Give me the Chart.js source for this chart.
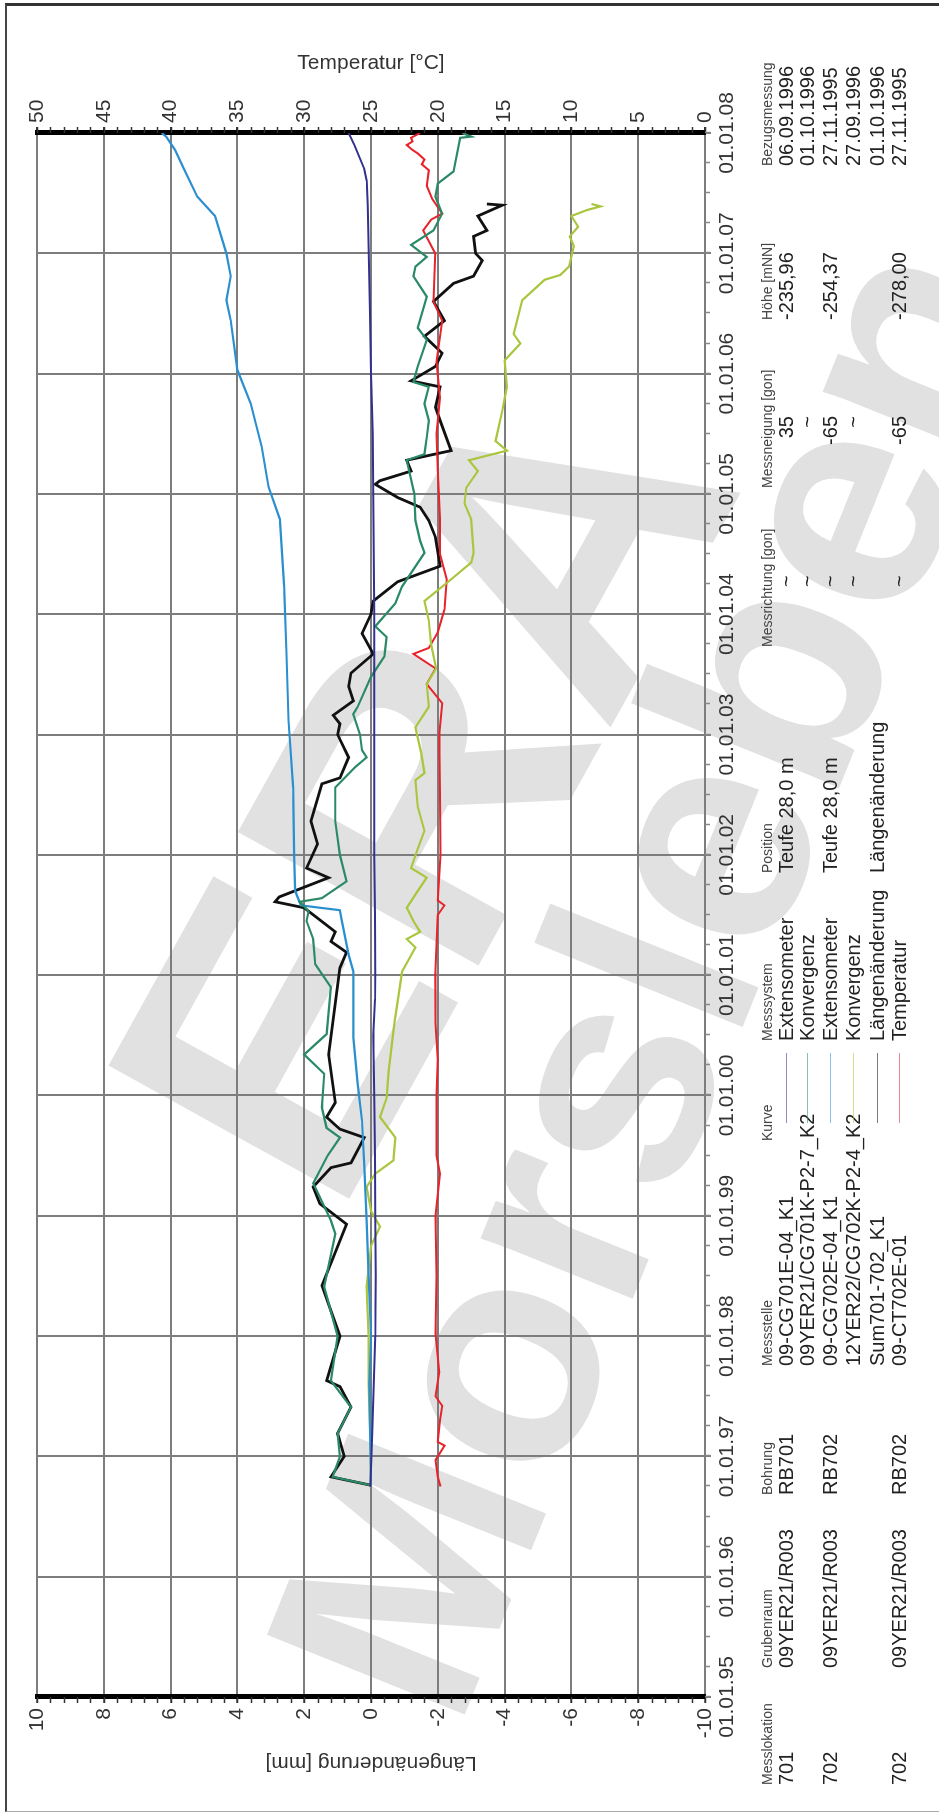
<!DOCTYPE html>
<html>
<head>
<meta charset="utf-8">
<script src="https://cdn.jsdelivr.net/npm/chart.js@4"></script>
<style>
  html, body { margin: 0; padding: 0; background: #fff; }
  body { width: 939px; height: 1813px; overflow: hidden; position: relative; }
  .wm { position: absolute; font-family: 'Liberation Sans', Arial, sans-serif; font-weight: bold;
        color: #e1e1e1; white-space: nowrap; transform-origin: 50% 50%; line-height: 1; z-index: 0; }
  #rahmen { position: absolute; left: 5px; top: 3px; width: 940px; height: 1805px;
            border-left: 2px solid #444; border-top: 3px solid #333; border-bottom: 1px solid #aaa; z-index: 2; }
  #frame { position: absolute; left: 0; top: 0; width: 1813px; height: 939px; transform-origin: 0 0;
           transform: translate(0px, 1813px) rotate(-90deg); z-index: 1; }
  #c { position: absolute; left: 0; top: 0; }
  .tx { position: absolute; white-space: nowrap; color: #222; line-height: 22px; height: 22px;
        font-family: 'Liberation Sans Narrow', 'Arial Narrow', 'Liberation Sans', Arial, sans-serif; font-size: 20px; }
  .hd { font-size: 14px; color: #444; line-height: 16px; height: 16px; }
</style>
</head>
<body>
<div class="wm" id="wm1">ERA</div>
<div class="wm" id="wm2">Morsleben</div>
<div id="rahmen"></div>
<div id="frame">
  <canvas id="c" width="1813" height="939"></canvas>
</div>
<script>
// Messwerte, Zeit in Dezimaljahren
const ext701T = [1996.75, 1996.9, 1997.2, 1997.6, 1998.0, 1998.5, 1999.0, 1999.5, 2000.0, 2000.5, 2000.8, 2001.0, 2001.5, 2002.0, 2002.5, 2003.0, 2003.5, 2004.0, 2004.5, 2005.0, 2005.5, 2006.0, 2006.5, 2007.0, 2007.4, 2007.6, 2007.7, 2007.8, 2007.9, 2008.0];
const ext701V = [0.02, 0.0, -0.04, -0.08, -0.13, -0.14, -0.13, -0.12, -0.1, -0.07, -0.12, -0.13, -0.12, -0.1, -0.1, -0.1, -0.1, -0.1, -0.08, -0.07, -0.05, 0.0, 0.03, 0.07, 0.1, 0.13, 0.2, 0.35, 0.5, 0.67];

const konv701T = [1996.76, 1996.83, 1997.0, 1997.19, 1997.41, 1997.63, 1998.0, 1998.41, 1998.85, 1998.96, 1999.27, 1999.5, 1999.65, 1999.73, 1999.9, 2000.18, 2000.34, 2000.51, 2000.9, 2001.09, 2001.3, 2001.45, 2001.53, 2001.61, 2001.64, 2001.78, 2002.0, 2002.28, 2002.56, 2002.73, 2002.81, 2002.87, 2003.0, 2003.17, 2003.23, 2003.48, 2003.65, 2003.81, 2003.9, 2004.09, 2004.23, 2004.51, 2004.61, 2004.78, 2005.0, 2005.28, 2005.33, 2005.47, 2005.61, 2005.75, 2005.89, 2005.93, 2006.06, 2006.28, 2006.38, 2006.64, 2006.81, 2006.89, 2006.97, 2007.07, 2007.19, 2007.33, 2007.47, 2007.58, 2007.68, 2007.96, 2007.97, 2008.0];
const konv701V = [0.0, 1.15, 0.93, 1.0, 0.6, 1.2, 1.0, 1.4, 1.07, 1.2, 1.73, 1.3, 0.93, 1.33, 1.47, 1.4, 2.0, 1.33, 1.2, 1.67, 1.73, 1.93, 1.87, 2.13, 1.47, 0.73, 0.93, 1.07, 1.07, 0.47, 0.13, 0.27, 0.33, 0.53, 0.4, 0.0, -0.4, -0.47, -0.13, -0.73, -0.93, -1.6, -1.47, -1.33, -1.3, -1.07, -1.6, -1.67, -1.73, -1.6, -1.73, -1.27, -1.4, -1.67, -1.4, -1.67, -1.27, -1.33, -1.67, -1.2, -1.87, -2.13, -1.93, -2.0, -2.47, -2.67, -3.0, -2.73];

const ext702T = [1996.78, 1997.2, 1997.6, 1998.0, 1998.5, 1998.96, 1999.4, 1999.79, 2000.1, 2000.48, 2001.03, 2001.17, 2001.45, 2001.54, 2001.58, 2001.7, 2002.0, 2002.56, 2003.12, 2003.67, 2004.23, 2004.79, 2005.06, 2005.39, 2005.75, 2006.03, 2006.44, 2006.61, 2006.81, 2007.0, 2007.31, 2007.47, 2007.7, 2007.86, 2007.97, 2008.0];
const ext702V = [0.0, 0.03, 0.05, 0.0, 0.07, 0.13, 0.2, 0.27, 0.4, 0.53, 0.53, 0.67, 0.87, 0.93, 2.1, 2.27, 2.3, 2.33, 2.47, 2.53, 2.6, 2.73, 3.07, 3.27, 3.6, 4.0, 4.2, 4.33, 4.2, 4.33, 4.67, 5.2, 5.6, 5.87, 6.13, 6.27];

const konv702T = [1996.78, 1997.2, 1997.6, 1998.0, 1998.41, 1998.75, 1998.91, 1999.04, 1999.24, 1999.35, 1999.46, 1999.65, 1999.82, 1999.98, 2000.2, 2000.6, 2001.03, 2001.23, 2001.3, 2001.36, 2001.45, 2001.56, 2001.7, 2001.81, 2001.89, 2002.05, 2002.2, 2002.4, 2002.62, 2002.68, 2002.85, 2003.06, 2003.23, 2003.42, 2003.55, 2003.75, 2003.95, 2004.11, 2004.29, 2004.43, 2004.51, 2004.79, 2004.92, 2005.05, 2005.19, 2005.28, 2005.36, 2005.44, 2005.69, 2005.89, 2006.11, 2006.25, 2006.33, 2006.61, 2006.78, 2006.82, 2006.89, 2007.06, 2007.14, 2007.22, 2007.31, 2007.36, 2007.39, 2007.41];
const konv702V = [0.0, 0.03, 0.07, 0.07, 0.13, 0.0, -0.27, 0.0, 0.13, -0.13, -0.67, -0.73, -0.27, -0.47, -0.53, -0.7, -0.93, -1.33, -1.07, -1.47, -1.27, -1.07, -1.4, -1.67, -1.2, -1.4, -1.6, -1.4, -1.33, -1.6, -1.5, -1.33, -1.73, -1.67, -1.95, -1.8, -1.73, -1.6, -2.4, -3.0, -3.07, -3.0, -2.8, -2.85, -3.2, -2.93, -4.07, -3.73, -3.93, -4.07, -4.0, -4.47, -4.27, -4.53, -5.2, -5.67, -5.93, -6.07, -5.95, -6.2, -6.0, -6.47, -6.87, -6.6];

const sumT = [1996.76, 1996.83, 1997.0, 1997.19, 1997.41, 1997.58, 1997.63, 1998.0, 1998.42, 1998.93, 1999.1, 1999.24, 1999.4, 1999.44, 1999.65, 1999.72, 1999.82, 1999.94, 2000.34, 2001.06, 2001.19, 2001.28, 2001.36, 2001.56, 2001.61, 2001.65, 2001.81, 2001.89, 2002.09, 2002.28, 2002.59, 2002.64, 2002.81, 2003.0, 2003.09, 2003.16, 2003.28, 2003.4, 2003.51, 2003.67, 2003.84, 2004.0, 2004.11, 2004.27, 2004.4, 2004.64, 2004.78, 2004.89, 2004.97, 2005.08, 2005.11, 2005.19, 2005.28, 2005.36, 2005.61, 2005.72, 2005.89, 2005.94, 2006.06, 2006.17, 2006.31, 2006.44, 2006.6, 2006.75, 2006.81, 2006.94, 2007.0, 2007.14, 2007.19, 2007.31, 2007.4, 2007.41];
const sumV = [0.0, 1.2, 0.8, 1.0, 0.6, 0.93, 1.33, 0.93, 1.47, 0.73, 1.53, 1.73, 1.2, 0.6, 0.2, 0.93, 1.33, 1.07, 1.27, 0.93, 0.73, 1.2, 1.07, 2.0, 2.87, 2.75, 1.27, 1.93, 1.6, 1.8, 1.47, 0.93, 0.67, 1.0, 0.93, 1.13, 0.53, 0.67, 0.6, -0.07, 0.27, 0.0, -0.07, -0.8, -2.07, -1.93, -1.73, -1.47, -0.8, -0.13, -0.27, -1.2, -1.07, -2.4, -2.07, -1.93, -2.07, -1.2, -1.93, -2.13, -1.6, -2.2, -1.87, -2.47, -3.07, -3.33, -3.13, -3.07, -3.47, -3.2, -3.93, -3.47];

const tempT = [1996.75, 1996.83, 1996.97, 1997.09, 1997.12, 1997.3, 1997.42, 1997.5, 1997.7, 1998.02, 1998.5, 1999.0, 1999.35, 1999.5, 2000.0, 2000.3, 2000.6, 2001.0, 2001.5, 2001.58, 2001.62, 2002.0, 2002.5, 2003.0, 2003.26, 2003.42, 2003.55, 2003.67, 2003.72, 2003.85, 2004.04, 2004.29, 2004.5, 2004.79, 2005.2, 2005.5, 2005.8, 2006.1, 2006.44, 2006.6, 2007.0, 2007.19, 2007.28, 2007.33, 2007.45, 2007.56, 2007.69, 2007.74, 2007.78, 2007.83, 2007.86, 2007.9, 2007.93, 2007.96, 2008.0];
const tempV = [19.8, 20.0, 20.17, 19.5, 20.0, 19.83, 19.67, 20.17, 19.9, 20.17, 20.1, 20.17, 19.83, 20.1, 20.1, 20.0, 20.17, 20.2, 20.0, 19.5, 20.0, 19.8, 19.83, 19.9, 19.67, 20.83, 20.17, 21.83, 20.67, 20.0, 19.5, 19.33, 19.83, 19.83, 20.0, 20.1, 19.83, 20.1, 19.67, 20.33, 20.2, 21.1, 20.5, 19.67, 20.4, 20.83, 20.67, 21.2, 21.0, 21.5, 21.9, 22.33, 21.9, 22.0, 21.33];

// Achsen
const jahrMin = 1995, jahrMax = 2008;
const mmMin = -10, mmMax = 10, mmStep = 2;
const tempMin = 0, tempMax = 50, tempStep = 5;

// Tabelle unter dem Diagramm
const spalten = ['Messlokation', 'Grubenraum', 'Bohrung', 'Messstelle', 'Kurve', 'Messsystem', 'Position', 'Messrichtung [gon]', 'Messneigung [gon]', 'Höhe [mNN]', 'Bezugsmessung'];
const messlokation = ['701', '', '702', '', '', '702'];
const grubenraum = ['09YER21/R003', '', '09YER21/R003', '', '', '09YER21/R003'];
const bohrung = ['RB701', '', 'RB702', '', '', 'RB702'];
const messstelle = ['09-CG701E-04_K1', '09YER21/CG701K-P2-7_K2', '09-CG702E-04_K1', '12YER22/CG702K-P2-4_K2', 'Sum701-702_K1', '09-CT702E-01'];
const messsystem = ['Extensometer', 'Konvergenz', 'Extensometer', 'Konvergenz', 'Längenänderung', 'Temperatur'];
const position = ['Teufe 28,0 m', '', 'Teufe 28,0 m', '', 'Längenänderung', ''];
const messrichtung = ['~', '~', '~', '~', '', '~'];
const messneigung = ['35', '~', '-65', '~', '', '-65'];
const hoehe = ['-235,96', '', '-254,37', '', '', '-278,00'];
const bezug = ['06.09.1996', '01.10.1996', '27.11.1995', '27.09.1996', '01.10.1996', '27.11.1995'];
const farben = ['#33318f', '#2a8a66', '#2a8fd0', '#a9c63e', '#111111', '#e8232b'];

const schrift = "'Liberation Sans Narrow', 'Arial Narrow', 'Liberation Sans', Arial, sans-serif";

function punkte(t, v) { return t.map((x, i) => ({ x: x, y: v[i] })); }

// kleine Zwischenstriche an den Achsen
const minorTicks = {
  id: 'minorTicks',
  afterDraw(chart) {
    const { ctx, chartArea: a, scales } = chart;
    ctx.save();
    ctx.lineWidth = 1.5;
    ctx.strokeStyle = '#333';
    ctx.beginPath();
    for (let i = 0; i <= 50; i++) {
      const p = Math.round(scales.y.getPixelForValue(mmMin + i * 0.4)) + 0.5;
      ctx.moveTo(a.left - 6, p); ctx.lineTo(a.left, p);
    }
    for (let i = 0; i <= 50; i++) {
      const p = Math.round(scales.y2.getPixelForValue(tempMin + i)) + 0.5;
      ctx.moveTo(a.right, p); ctx.lineTo(a.right + 6, p);
    }
    ctx.stroke();
    ctx.strokeStyle = '#888';
    ctx.beginPath();
    for (let i = 0; i <= 52; i++) {
      const p = Math.round(scales.x.getPixelForValue(jahrMin + i * 0.25)) + 0.5;
      ctx.moveTo(p, a.bottom); ctx.lineTo(p, a.bottom + 5);
    }
    ctx.stroke();
    ctx.restore();
  }
};

const tickFont = { family: schrift, size: 21 };

new Chart(document.getElementById('c'), {
  type: 'line',
  data: {
    datasets: [
      { label: '09-CG701E-04_K1', data: punkte(ext701T, ext701V), borderColor: farben[0], borderWidth: 2, yAxisID: 'y' },
      { label: '09YER21/CG701K-P2-7_K2', data: punkte(konv701T, konv701V), borderColor: farben[1], borderWidth: 2.2, yAxisID: 'y' },
      { label: '09-CG702E-04_K1', data: punkte(ext702T, ext702V), borderColor: farben[2], borderWidth: 2.2, yAxisID: 'y' },
      { label: '12YER22/CG702K-P2-4_K2', data: punkte(konv702T, konv702V), borderColor: farben[3], borderWidth: 2.2, yAxisID: 'y' },
      { label: '09-CT702E-01', data: punkte(tempT, tempV), borderColor: farben[5], borderWidth: 2, yAxisID: 'y2' },
      { label: 'Sum701-702_K1', data: punkte(sumT, sumV), borderColor: farben[4], borderWidth: 2.8, yAxisID: 'y' }
    ]
  },
  options: {
    responsive: false,
    animation: false,
    layout: { padding: { top: 37, left: 0, right: 0, bottom: 0 } },
    elements: { point: { radius: 0 }, line: { tension: 0 } },
    plugins: { legend: { display: false }, tooltip: { enabled: false } },
    scales: {
      x: {
        type: 'linear', min: jahrMin, max: jahrMax, position: 'bottom',
        ticks: {
          stepSize: 1, autoSkip: false, maxRotation: 0, padding: 4, color: '#333', font: tickFont,
          callback: (v) => '01.01.' + String(v % 100).padStart(2, '0')
        },
        grid: { color: '#7d7d7d', lineWidth: 2, tickLength: 6 },
        border: { color: '#7d7d7d', width: 2 },
        afterFit: (s) => { s.height = 234; }
      },
      y: {
        min: mmMin, max: mmMax, position: 'left',
        ticks: { stepSize: mmStep, padding: 5, color: '#333', font: tickFont },
        grid: { color: '#7d7d7d', lineWidth: 2, tickLength: 6 },
        border: { color: '#000', width: 5 },
        title: { display: true, text: 'Längenänderung [mm]', color: '#333', font: { family: schrift, size: 21 }, padding: { top: 38, bottom: 0 } },
        afterFit: (s) => { s.width = 116; }
      },
      y2: {
        min: tempMin, max: tempMax, position: 'right',
        ticks: { stepSize: tempStep, padding: 4, color: '#333', font: tickFont },
        grid: { drawOnChartArea: false, color: '#333', lineWidth: 2, tickLength: 6 },
        border: { color: '#000', width: 5 },
        title: { display: true, text: 'Temperatur [°C]', color: '#333', font: { family: schrift, size: 21 }, padding: { top: 51, bottom: 0 } },
        afterFit: (s) => { s.width = 133; }
      }
    }
  },
  plugins: [minorTicks]
});

// Tabelle (im gedrehten Rahmen)
const frame = document.getElementById('frame');
const kopfV = 767;
const zeilenV = [786, 807, 830, 853, 877, 899];
const spaltenU = [28, 145, 318, 447, 672, 772, 940, 1166, 1325, 1493, 1647];
const inhalte = [messlokation, grubenraum, bohrung, messstelle, null, messsystem, position, messrichtung, messneigung, hoehe, bezug];

function text(s, u, v, cls, align) {
  const d = document.createElement('div');
  d.className = cls;
  d.textContent = s;
  d.style.top = (v - (cls.includes('hd') ? 8 : 11)) + 'px';
  if (align === 'right') { d.style.right = (1813 - u) + 'px'; } else { d.style.left = u + 'px'; }
  frame.appendChild(d);
}

spalten.forEach((h, k) => text(h, spaltenU[k], kopfV, 'tx hd'));
inhalte.forEach((col, k) => {
  if (!col) return;
  col.forEach((s, r) => {
    if (!s) return;
    if (k === 7) text(s, spaltenU[k] + 60, zeilenV[r], 'tx');
    else if (k === 8) text(s, 1397, zeilenV[r], 'tx', 'right');
    else text(s, spaltenU[k], zeilenV[r], 'tx');
  });
});
farben.forEach((f, r) => {
  const l = document.createElement('div');
  l.style.cssText = 'position:absolute;left:690px;width:70px;height:0;border-top:1.5px solid ' + f + ';opacity:0.55;top:' + zeilenV[r] + 'px';
  frame.appendChild(l);
});

// Wasserzeichen
const wm1 = document.getElementById('wm1');
wm1.style.fontSize = '400px';
wm1.style.left = (428 - 430) + 'px';
wm1.style.top = (786 - 200) + 'px';
wm1.style.transform = 'rotate(-61deg)';
const wm2 = document.getElementById('wm2');
wm2.style.fontSize = '310px';
wm2.style.left = (648 - 775) + 'px';
wm2.style.top = (975 - 155) + 'px';
wm2.style.transform = 'rotate(-68deg)';
</script>
</body>
</html>
